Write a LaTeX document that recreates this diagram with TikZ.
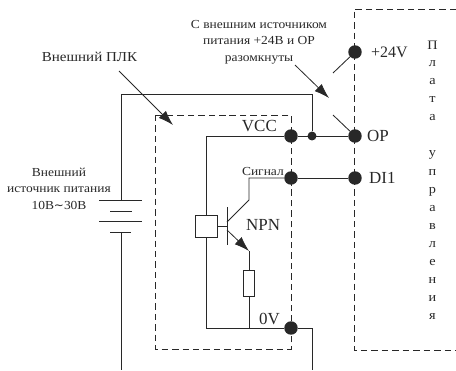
\documentclass[tikz,border=0pt]{standalone}
\usepackage{fontspec}
\setmainfont{Liberation Serif}
\newfontfamily\widefont[FakeStretch=1.1]{Liberation Serif}
\newfontfamily\symfont{DejaVu Sans}
\usetikzlibrary{arrows.meta}
\definecolor{ink}{RGB}{40,40,40}
\tikzset{
  wire/.style={draw=ink,line width=0.85pt},
  dash box/.style={draw=ink,line width=0.75pt,dash pattern=on 6.5pt off 4pt},
  dot/.style={circle,fill=ink,draw=none,minimum size=13.5pt,inner sep=0pt},
  smalldot/.style={circle,fill=ink,draw=none,minimum size=9pt,inner sep=0pt},
  part/.style={draw=ink,fill=white,line width=0.85pt,inner sep=0pt},
  lbl/.style={text=ink,inner sep=0pt,align=center},
  pointer/.style={draw=ink,line width=0.8pt,-{Latex[length=15pt,width=10pt]}},
  notefont/.style={lbl,font=\widefont\fontsize{12.3}{16.5}\selectfont},
  big/.style={lbl,font=\fontsize{17}{19}\selectfont},
  vert/.style={lbl,font=\widefont\fontsize{13}{14}\selectfont},
}
\begin{document}
\begin{tikzpicture}[x=1bp,y=-1bp]
\useasboundingbox (0,0) rectangle (456,370);
\coordinate (rt) at (456,9); \coordinate (rtl) at (354,9); \coordinate (rbl) at (354,350); \coordinate (rb) at (456,350);
\draw[dash box] (rt) -- (rtl) -- (rbl) -- (rb);
\draw[dash box] (155,115) rectangle (291,349);

\node[dot] (p24) at (355,52) {};
\node[dot] (op) at (355,136) {};
\node[dot] (di) at (355,178) {};
\node[dot] (vcc) at (291,136) {};
\node[dot] (sig) at (291,178) {};
\node[dot] (zero) at (291,328) {};
\node[smalldot] (jn) at (312,136) {};

\coordinate (p24end) at (333,73);
\coordinate (opend) at (333,115);
\draw[wire] (p24) -- (p24end);
\draw[wire] (op) -- (opend);
\draw[wire] (vcc) -- (op);
\draw[wire] (sig) -- (di);

% external supply loop
\coordinate (tl) at (121,94);
\coordinate (b1) at (121,200);
\coordinate (b2) at (121,232);
\coordinate (bot1) at (121,370);
\coordinate (c1) at (312,328); \coordinate (bot2) at (312,370);
\draw[wire] (jn) -- (312,94) -- (tl) -- (b1);
\draw[wire] (b2) -- (bot1);
\draw[wire] (zero) -- (c1) -- (bot2);
\draw[wire] (99,200) -- (142,200);
\draw[wire] (110,211) -- (132,211);
\draw[wire] (99,221) -- (142,221);
\draw[wire] (110,232) -- (131,232);

% internal
\coordinate (ll) at (206,328);
\coordinate (rj) at (249,328);
\draw[wire] (vcc) -- (206,136) -- (ll) -- (zero);
\node[part,minimum width=22pt,minimum height=22pt] (sq) at (206,226) {};
\coordinate (bb) at (227,226);
\draw[wire] (sq) -- (bb);
\draw[wire] (227,207) -- (227,245);
\coordinate (col) at (249,200);
\draw[wire] (sig) -- (249,178) -- (col) -- (227,222);
\coordinate (em) at (249,251);
\draw[pointer] (227,230) -- (em);
\node[part,minimum width=11pt,minimum height=26pt] (res) at (249,283) {};
\draw[wire] (em) -- (res);
\draw[wire] (res) -- (rj);

% pointers
\node[lbl,font=\widefont\fontsize{13.7}{15}\selectfont] (plk) at (89.5,57) {Внешний ПЛК};
\coordinate (plkfrom) at (119,71);
\coordinate (plkto) at (173,125);
\draw[pointer] (plkfrom) -- (plkto);
\node[notefont] (note) at (259,42) {С внешним источником\\питания +24В и ОР\\разомкнуты};
\coordinate (nfrom) at (295,65);
\coordinate (nto) at (329,98);
\draw[pointer] (nfrom) -- (nto);

\node[notefont] (sup) at (59,188.5) {Внешний\\источник питания\\10В{\symfont\fontsize{12}{14}\selectfont∼}30В};

\node[big,anchor=east] (lv) at (277,126) {VCC};
\node[notefont,anchor=east] (ls) at (284,171) {Сигнал};
\node[big,anchor=west] (ln) at (246,225) {NPN};
\node[big,anchor=east] (l0) at (280,319) {0V};
\node[big,anchor=west] (lo) at (367,136) {OP};
\node[big,anchor=west] (ld) at (369,178) {DI1};
\node[big,anchor=west,font=\fontsize{16}{18}\selectfont] (l24) at (371,52) {+24V};

\foreach \t/\y/\n in {П/45/a,л/64/b,а/82/c,т/100/d,а/118/e,у/155/f,п/173/g,р/192/h,а/209/i,в/227/j,л/245/k,е/263/l,н/281/m,и/299/o,я/317/q}
  \node[vert] (v\n) at (432.5,\y) {\t};
\end{tikzpicture}
\end{document}
